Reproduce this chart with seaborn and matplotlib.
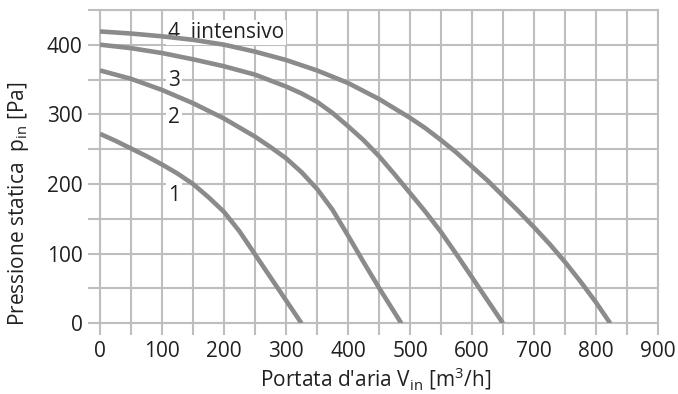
import numpy as np
import pandas as pd
import seaborn as sns
import matplotlib.pyplot as plt

# portata d'aria [m3/h] e pressione statica [Pa]
portata_1 = [0, 25, 50, 75, 100, 125, 150, 175, 200, 225, 250, 275, 300, 325]
pressione_1 = [272, 262, 251, 240, 228, 215, 200, 181, 160, 132, 99, 66, 33, 0]

portata_2 = [0, 50, 100, 150, 200, 250, 275, 300, 325, 350, 375, 400, 425, 450, 486]
pressione_2 = [363, 351, 335, 316, 294, 268, 253, 237, 217, 193, 163, 126, 88, 51, 0]

portata_3 = [0, 50, 100, 150, 200, 250, 300, 325, 350, 375, 400, 425, 450, 475,
             500, 525, 550, 575, 600, 625, 650]
pressione_3 = [400, 395, 388, 379, 369, 357, 340, 330, 318, 302, 283, 263, 240, 214,
               187, 160, 131, 99, 66, 33, 0]

portata_4 = [0, 50, 100, 150, 200, 250, 300, 350, 400, 450, 500, 525, 550, 575,
             600, 625, 650, 675, 700, 725, 750, 775, 800, 823]
pressione_4 = [419, 416, 412, 407, 400, 390, 378, 363, 345, 322, 295, 280, 263, 245,
               225, 205, 183, 161, 138, 114, 88, 60, 30, 0]

curve_names = ["1", "2", "3", "4"]
curve_labels = ["1", "2", "3", "4  iintensivo"]
label_x = [110, 110, 110, 110]
label_y = [183, 295, 348, 418]

x_ticks = list(range(0, 901, 100))
y_ticks = list(range(0, 401, 100))

frames = []
for name, xs, ys in zip(curve_names,
                        [portata_1, portata_2, portata_3, portata_4],
                        [pressione_1, pressione_2, pressione_3, pressione_4]):
    frames.append(pd.DataFrame({"portata": xs, "pressione": ys, "curva": name}))
df = pd.concat(frames, ignore_index=True)

sns.set_theme(style="white")
plt.rcParams['font.family'] = ['Open Sans', 'DejaVu Sans']
plt.rcParams['mathtext.fontset'] = 'custom'
plt.rcParams['mathtext.rm'] = 'Open Sans'
plt.rcParams['mathtext.it'] = 'Open Sans'

grid_col = "#bdbec0"
line_col = "#8b8b8d"
text_col = "#231f20"
fs = 15

fig = plt.figure(figsize=(6.78, 3.94), dpi=100)
ax = fig.add_axes([0.1475, 0.1794, 0.823, 0.7956])

sns.lineplot(data=df, x="portata", y="pressione", hue="curva",
             palette=[line_col] * 4, linewidth=3.3, legend=False,
             sort=False, ax=ax, zorder=3, solid_joinstyle="round",
             solid_capstyle="butt")

ax.set_xlim(0, 900)
ax.set_ylim(0, 450)
ax.set_xticks(x_ticks)
ax.set_yticks(y_ticks)
ax.set_xticks(np.arange(50, 900, 100), minor=True)
ax.set_yticks(np.arange(50, 451, 100), minor=True)
ax.grid(True, which="both", color=grid_col, linewidth=1.5, zorder=0)
ax.set_axisbelow(True)
for s in ax.spines.values():
    s.set_color(grid_col)
    s.set_linewidth(1.5)

ax.tick_params(which="both", direction="out", length=8.5, width=1.5,
               color=grid_col, labelcolor=text_col, labelsize=fs, pad=4,
               bottom=True, left=True)

for lab, lx, ly in zip(curve_labels, label_x, label_y):
    ax.text(lx, ly, lab, fontsize=fs, color=text_col, va="center", ha="left",
            zorder=2, bbox=dict(facecolor="white", edgecolor="none", pad=1.5))

ax.set_xlabel("Portata d'aria V$_{\\mathrm{in}}$ [m$^3$/h]", fontsize=fs,
              color=text_col)
ax.set_ylabel("Pressione statica  p$_{\\mathrm{in}}$ [Pa]", fontsize=fs,
              color=text_col)
ax.xaxis.set_label_coords(0.493, -0.135)
ax.yaxis.set_label_coords(-0.124, 0.38)

fig.savefig("out.png", dpi=100)
